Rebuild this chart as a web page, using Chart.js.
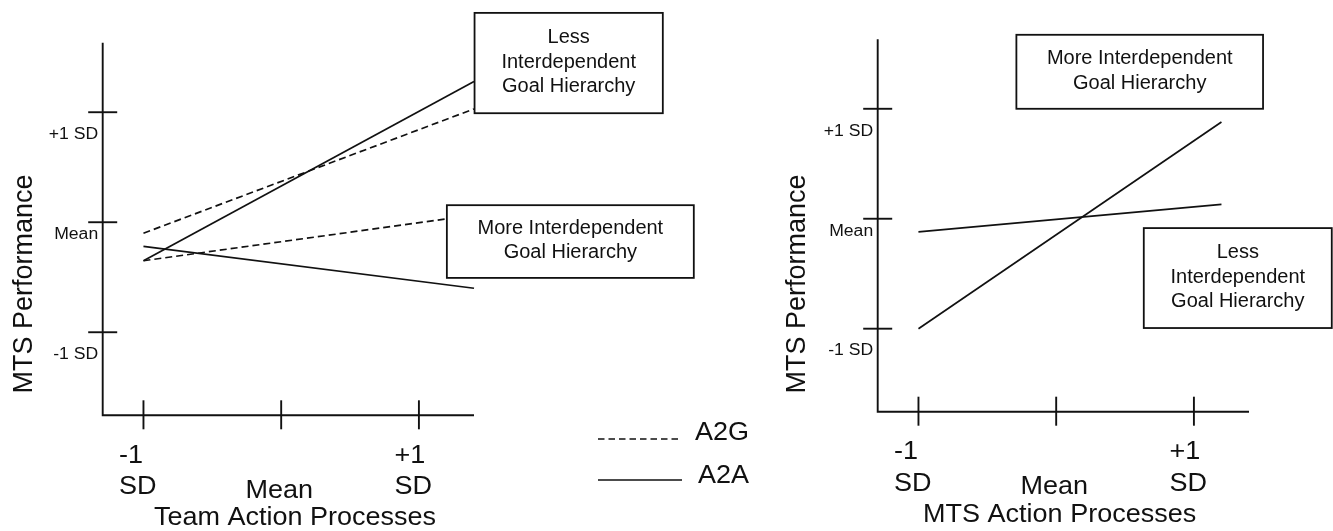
<!DOCTYPE html>
<html>
<head>
<meta charset="utf-8">
<script src="https://cdn.jsdelivr.net/npm/chart.js@4.4.0/dist/chart.umd.min.js"></script>
<style>
  body { margin: 0; background: #fff; }
  #wrap { position: relative; width: 1333px; height: 531px; overflow: hidden; }
  #wrap canvas { position: absolute; left: 0; top: 0; }
</style>
</head>
<body>
<div id="wrap">
  <canvas id="teamChart" width="1333" height="531"></canvas>
  <canvas id="mtsChart" width="1333" height="531"></canvas>
</div>
<script>
// axis ticks (SD units) and their labels
const xTicks = [-1, 0, 1];
const xTickLabels = [["-1", "SD"], ["Mean"], ["+1", "SD"]];
const yTicks = [-1, 0, 1];
const yTickLabels = ["-1 SD", "Mean", "+1 SD"];
const seriesNames = ["A2G", "A2A"];

// left panel: Team Action Processes
const teamX = [-1, 1.40];
const teamMoreA2GX = [-1, 1.20];
const teamLessA2A = [-0.35, 1.28];
const teamLessA2G = [-0.10, 1.03];
const teamMoreA2G = [-0.35, 0.03];
const teamMoreA2A = [-0.22, -0.60];

// right panel: MTS Action Processes
const mtsX = [-1, 1.20];
const mtsMore = [-1.00, 0.88];
const mtsLess = [-0.12, 0.13];

const INK = "#111";
const FONT = "'Liberation Sans', Arial, sans-serif";
const DASH = [7, 4];

function pts(xs, ys) {
  return xs.map((x, i) => ({ x: x, y: ys[i] }));
}

function lineSet(label, xs, ys, dashed) {
  return {
    label: label,
    data: pts(xs, ys),
    borderColor: INK,
    borderWidth: 1.7,
    borderDash: dashed ? DASH : [],
    pointRadius: 0,
    tension: 0,
    fill: false,
    clip: false
  };
}

// text squeezed/stretched horizontally like the original figure
function wideText(ctx, text, x, y, sx, align) {
  ctx.save();
  ctx.translate(x, y);
  ctx.scale(sx, 1);
  ctx.textAlign = align;
  ctx.textBaseline = "alphabetic";
  ctx.fillText(text, 0, 0);
  ctx.restore();
}

// draws the hand-made axes, tick crosses, labels, boxes and legend
function panelPlugin(opt) {
  return {
    id: "panel",
    afterDatasetsDraw(chart) {
      const ctx = chart.ctx;
      const a = chart.chartArea;
      const xs = chart.scales.x, ys = chart.scales.y;
      ctx.save();
      ctx.strokeStyle = INK;
      ctx.fillStyle = INK;
      ctx.lineWidth = 1.9;

      // axes
      ctx.beginPath();
      ctx.moveTo(a.left, a.top);
      ctx.lineTo(a.left, a.bottom);
      ctx.lineTo(a.right, a.bottom);
      ctx.stroke();

      // y ticks
      yTicks.forEach((v, i) => {
        const py = ys.getPixelForValue(v);
        ctx.beginPath();
        ctx.moveTo(a.left - 14.5, py);
        ctx.lineTo(a.left + 14.5, py);
        ctx.stroke();
        ctx.font = "16px " + FONT;
        const off = yTickLabels[i] === "Mean" ? 11 : 21;
        wideText(ctx, yTickLabels[i], a.left - 4.5, py + off + 5.8, 1.1, "right");
      });

      // x ticks
      xTicks.forEach((v, i) => {
        const px = xs.getPixelForValue(v);
        ctx.beginPath();
        ctx.moveTo(px, a.bottom - 15);
        ctx.lineTo(px, a.bottom + 14);
        ctx.stroke();
        ctx.font = "25px " + FONT;
        const lines = xTickLabels[i];
        if (lines.length === 1) {
          wideText(ctx, lines[0], px - 2, a.bottom + 82.5, 1.08, "center");
        } else {
          lines.forEach((t, j) => {
            wideText(ctx, t, px - 24.5, a.bottom + 47.5 + j * 31.5, 1.08, "left");
          });
        }
      });

      // axis titles
      ctx.font = "25px " + FONT;
      wideText(ctx, opt.xTitle, xs.getPixelForValue(opt.xTitleAt), a.bottom + 110, 1.08, "center");
      ctx.save();
      ctx.translate(opt.yTitleX, opt.yTitleY);
      ctx.rotate(-Math.PI / 2);
      ctx.font = "27px " + FONT;
      ctx.textAlign = "center";
      ctx.textBaseline = "alphabetic";
      ctx.fillText(opt.yTitle, 0, 0);
      ctx.restore();

      // label boxes
      ctx.lineWidth = 1.8;
      opt.boxes.forEach(b => {
        const x0 = xs.getPixelForValue(b.x0), x1 = xs.getPixelForValue(b.x1);
        const y0 = ys.getPixelForValue(b.y0), y1 = ys.getPixelForValue(b.y1);
        ctx.fillStyle = "#fff";
        ctx.fillRect(x0, y0, x1 - x0, y1 - y0);
        ctx.strokeRect(x0, y0, x1 - x0, y1 - y0);
        ctx.fillStyle = INK;
        ctx.font = "20px " + FONT;
        ctx.textAlign = "center";
        const cx = (x0 + x1) / 2;
        const cy = (y0 + y1) / 2 - 2.5;
        const n = b.lines.length;
        b.lines.forEach((t, j) => {
          ctx.fillText(t, cx, cy + (j - (n - 1) / 2) * 24.5 + 7);
        });
      });

      // legend
      if (opt.legend) {
        const lg = opt.legend;
        ctx.lineWidth = 1.7;
        seriesNames.forEach((name, i) => {
          const ly = lg.y + i * lg.gap;
          ctx.setLineDash(name === "A2G" ? [6.5, 4] : []);
          ctx.beginPath();
          ctx.moveTo(lg.x, ly);
          ctx.lineTo(lg.x + 84, ly);
          ctx.stroke();
          ctx.setLineDash([]);
          ctx.font = "25px " + FONT;
          wideText(ctx, name, lg.x + 97 + i * 3, ly + 1 + i * 2, 1.08, "left");
        });
      }
      ctx.restore();
    }
  };
}

function makePanel(id, datasets, pad, opt) {
  return new Chart(document.getElementById(id).getContext("2d"), {
    type: "line",
    data: { datasets: datasets },
    options: {
      responsive: false,
      animation: false,
      devicePixelRatio: 1,
      layout: { padding: pad },
      scales: {
        x: { type: "linear", min: -1.296, max: 1.40, display: false },
        y: { type: "linear", min: -1.755, max: 1.632, display: false }
      },
      plugins: { legend: { display: false }, tooltip: { enabled: false } }
    },
    plugins: [panelPlugin(opt)]
  });
}

makePanel("teamChart", [
  lineSet("Less A2A", teamX, teamLessA2A, false),
  lineSet("Less A2G", teamX, teamLessA2G, true),
  lineSet("More A2G", teamMoreA2GX, teamMoreA2G, true),
  lineSet("More A2A", teamX, teamMoreA2A, false)
], { left: 102.7, top: 42.7, right: 859, bottom: 115.7 }, {
  xTitle: "Team Action Processes",
  xTitleAt: 0.10,
  yTitle: "MTS Performance",
  yTitleX: 32,
  yTitleY: 284,
  boxes: [
    { x0: 1.404, x1: 2.771, y0: 1.903, y1: 0.991, lines: ["Less", "Interdependent", "Goal Hierarchy"] },
    { x0: 1.203, x1: 2.996, y0: 0.155, y1: -0.506, lines: ["More Interdependent", "Goal Hierarchy"] }
  ],
  legend: { x: 598, y: 439, gap: 41 }
});

makePanel("mtsChart", [
  lineSet("More", mtsX, mtsMore, false),
  lineSet("Less", mtsX, mtsLess, false)
], { left: 877.7, top: 39.3, right: 84, bottom: 119.3 }, {
  xTitle: "MTS Action Processes",
  xTitleAt: 0.025,
  yTitle: "MTS Performance",
  yTitleX: 805,
  yTitleY: 284,
  boxes: [
    { x0: -0.289, x1: 1.502, y0: 1.673, y1: 1.0, lines: ["More Interdependent", "Goal Hierarchy"] },
    { x0: 0.636, x1: 2.001, y0: -0.085, y1: -0.994, lines: ["Less", "Interdependent", "Goal Hierarchy"] }
  ]
});
</script>
</body>
</html>
